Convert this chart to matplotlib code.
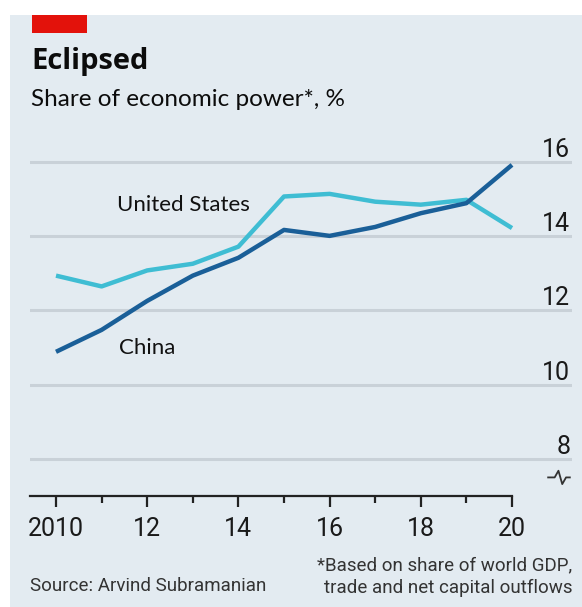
import matplotlib
matplotlib.use("Agg")
import matplotlib.pyplot as plt
from matplotlib.patches import Rectangle
from matplotlib import font_manager as fm

years = [2010, 2011, 2012, 2013, 2014, 2015, 2016, 2017, 2018, 2019, 2020]
china = [10.88, 11.47, 12.25, 12.93, 13.41, 14.16, 14.00, 14.24, 14.61, 14.88, 15.91]
united_states = [12.93, 12.64, 13.07, 13.25, 13.71, 15.06, 15.13, 14.92, 14.84, 14.97, 14.21]
x_ticks = [2010, 2012, 2014, 2016, 2018, 2020]
x_tick_labels = ["2010", "12", "14", "16", "18", "20"]
y_ticks = [8, 10, 12, 14, 16]

names = {f.name for f in fm.fontManager.ttflist}
narrow = "Liberation Sans Narrow" if "Liberation Sans Narrow" in names else "Roboto"
body = "Lato"

BG = "#e3ebf1"
W, H = 582, 607
fig = plt.figure(figsize=(W / 100, H / 100), dpi=100)
fig.patch.set_facecolor("white")
fig.add_artist(Rectangle((10 / W, 0), 1, 1 - 15 / H, transform=fig.transFigure,
                         facecolor=BG, edgecolor="none", zorder=-10))
fig.add_artist(Rectangle((32 / W, 1 - 33 / H), 55 / W, 18 / H, transform=fig.transFigure,
                         facecolor="#e3120b", edgecolor="none"))
fig.text(31 / W, 1 - 62 / H, "Eclipsed", fontsize=21, fontweight="bold",
         family="Open Sans", va="center", ha="left", color="#0c0c0c")
fig.text(31 / W, 1 - 100 / H, "Share of economic power*, %", fontsize=17.5,
         family=body, va="center", ha="left", color="#0c0c0c")

left, right = 30 / W, 572 / W
bottom, top = 1 - 496 / H, 1 - 140 / H
ax = fig.add_axes([left, bottom, right - left, top - bottom])
ax.set_facecolor("none")
ppy = 45.6
xmin = 2010 - 26 / ppy
xmax = 2020 + 60 / ppy
ax.set_xlim(xmin, xmax)
ax.set_ylim(7.0, 16.58)

for yv in y_ticks:
    ax.axhline(yv, color="#c9d1d8", lw=2.2, zorder=1)
    ax.text(0.997, yv + 0.0, str(yv), transform=ax.get_yaxis_transform(),
            ha="right", va="bottom", fontsize=18, family=narrow, color="#1a1a1a")

ax.plot(years, united_states, color="#3fbdd3", lw=3.2, zorder=3, solid_capstyle="butt")
ax.plot(years, china, color="#1a5f98", lw=3.2, zorder=4, solid_capstyle="butt")

ax.text(2011.33, 14.84, "United States", fontsize=16, family=body, color="#111111",
        ha="left", va="center")
ax.text(2011.38, 10.98, "China", fontsize=16, family=body, color="#111111",
        ha="left", va="center")

for s in ["top", "right", "left"]:
    ax.spines[s].set_visible(False)
ax.spines["bottom"].set_bounds(xmin, 2020)
ax.spines["bottom"].set_linewidth(1.6)
ax.spines["bottom"].set_color("#222222")
ax.set_yticks([])
ax.set_xticks(x_ticks)
ax.set_xticklabels(x_tick_labels, fontsize=18, family=narrow, color="#1a1a1a")
ax.set_xticks(years, minor=True)
ax.tick_params(axis="x", which="major", length=8, width=1.6, color="#222222", pad=7)
ax.tick_params(axis="x", which="minor", length=5, width=1.6, color="#222222")

# axis break symbol (axes-fraction x, data y)
bx = [0.956, 0.968, 0.975, 0.982, 0.989, 0.996]
by = [7.5, 7.5, 7.68, 7.32, 7.5, 7.5]
ax.plot(bx, by, color="#333333", lw=1.3, clip_on=False,
        transform=ax.get_yaxis_transform())

fig.text(30 / W, 1 - 586 / H, "Source: Arvind Subramanian", fontsize=13.5, family=narrow,
         color="#333333", ha="left", va="center")
fig.text(572 / W, 1 - 593 / H, "*Based on share of world GDP,\ntrade and net capital outflows",
         fontsize=13.5, family=narrow, color="#333333", ha="right", va="baseline",
         linespacing=1.3, multialignment="right")

fig.savefig("out.png", dpi=100, facecolor="white")
